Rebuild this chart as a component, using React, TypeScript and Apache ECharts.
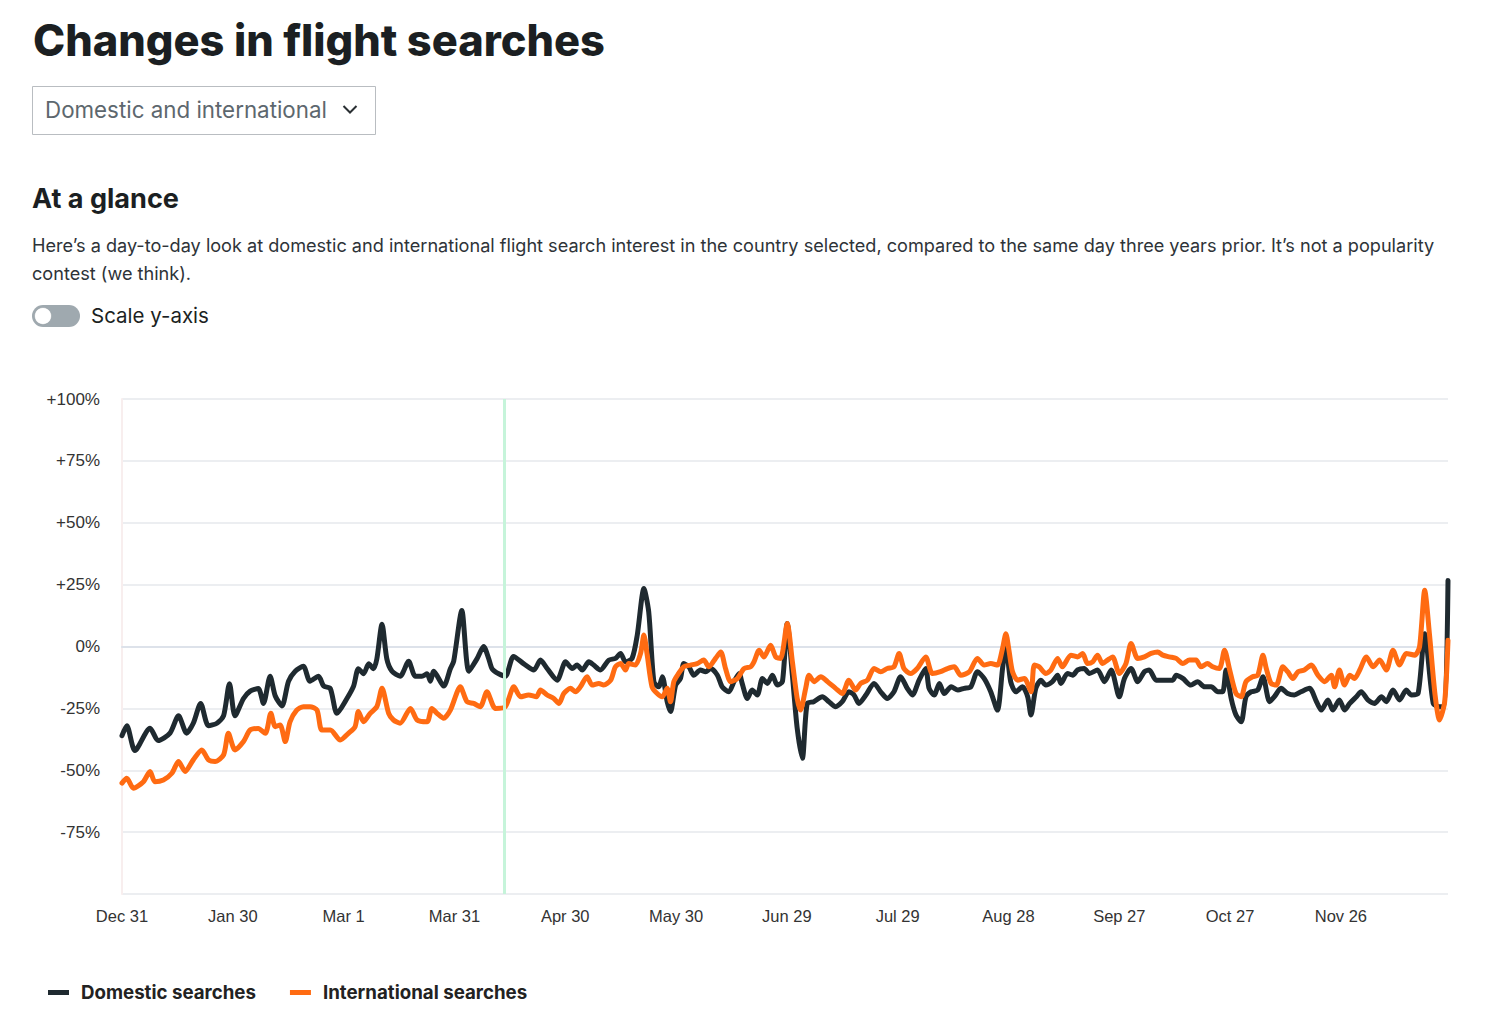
import React, { useEffect, useRef } from "react";
import * as echarts from "echarts";

const TICK_LABELS = ["Dec 31", "Jan 30", "Mar 1", "Mar 31", "Apr 30", "May 30", "Jun 29", "Jul 29", "Aug 28", "Sep 27", "Oct 27", "Nov 26"];
const Y_TICKS = [-100, -75, -50, -25, 0, 25, 50, 75, 100];
const MARKER_DAY = 103.5;
const SERIES_NAMES = ["Domestic searches", "International searches"];

// [day since Dec 31, % change]
const DOMESTIC: [number, number][] = [
  [0, -36], [1.3, -32], [3.5, -42], [7.6, -33], [9.8, -38], [13, -35], [15.3, -28], [17.5, -35], [19.3, -31], [21.3, -23],
  [23.4, -32], [25.7, -31], [27.5, -28], [29.1, -15], [30.6, -28], [32.9, -21], [34.7, -18], [36.9, -17], [38.3, -23], [40.1, -12],
  [41.5, -20], [43.3, -24], [45.1, -14], [46.9, -10], [49.1, -8], [50.9, -14], [53.2, -12], [54.6, -16], [56.4, -17], [58.2, -27],
  [60.9, -21], [62.7, -16], [64, -9], [65.4, -11], [66.8, -7], [68.1, -9], [69, -5], [70.4, 9], [71.7, -5], [73.1, -10],
  [75.3, -12], [77.6, -6], [79.4, -12], [81.2, -12], [82.6, -11], [83.5, -14], [84.4, -10], [87.1, -16], [88.9, -9], [89.8, -6],
  [92, 14.5], [93.9, -10], [96.1, -5], [97.9, 0], [99.3, -5], [100.2, -9], [102, -11], [103.8, -12], [106, -4], [108.8, -7],
  [111.5, -9.5], [113.3, -5.5], [115.1, -8.9], [117.8, -13.6], [120.1, -6.2], [121.9, -8.9], [123.2, -7.5], [124.6, -9.5], [126.4, -6.2], [127.7, -7.5],
  [129.5, -9.5], [131.8, -5.5], [133.6, -4.8], [135, -2.8], [136.3, -6.2], [138.1, -4.8], [139.5, 4.6], [141.3, 23.4], [142.6, 14], [144, -14.2],
  [145.3, -16.3], [146.3, -12.2], [147.6, -22.3], [148.5, -26.3], [149.9, -15.6], [151.2, -12.9], [152.1, -6.9], [153.5, -8.2], [154.8, -11.6], [156.6, -9.5],
  [158, -10.2], [159.4, -8.9], [161.2, -11.6], [162.5, -16.3], [164.3, -18.3], [165.7, -14.2], [167.1, -10.9], [167.9, -14.9], [169.3, -21], [170.6, -17.6],
  [172, -19.6], [173.4, -12.9], [174.7, -14.9], [176.1, -11.6], [177.4, -15.6], [178.8, -14.2], [180.1, 9.3], [181.5, -11.6], [182.8, -33], [184.2, -45.2],
  [185.5, -23], [187.3, -22.3], [189.6, -20.3], [191.4, -22.3], [193.2, -24.3], [195, -22.3], [196.8, -18.3], [198.2, -19.6], [199.5, -23], [201.4, -19.6],
  [203.6, -14.9], [205.4, -18.3], [207.2, -21], [209, -18.3], [210.8, -12.2], [212.6, -16.9], [214, -19.6], [215.8, -13.6], [217.6, -8.9], [218.5, -16.9],
  [219.9, -19.6], [221.3, -14.9], [222.6, -19], [224.5, -16.3], [226.3, -17.6], [228, -16.9], [229.8, -16.3], [231.6, -10.2], [233.4, -12.9], [235.2, -18.3],
  [237, -25.7], [238.4, -8.9], [239.3, 0.5], [240.6, -14.2], [242, -18.3], [243.8, -16.3], [245.2, -20.3], [246.1, -27.7], [247.4, -16.9], [248.8, -13.6],
  [250.1, -15.6], [251.9, -14.2], [253.3, -11.6], [254.2, -14.9], [256, -10.9], [257.4, -11.6], [258.7, -9.5], [260.5, -8.9], [261.9, -10.9], [264.1, -9.5],
  [266, -14.2], [267.8, -9.5], [270, -20.3], [271.4, -12.9], [273.2, -8.9], [275, -14.2], [276.8, -10.2], [278.1, -9.5], [280, -13.6], [282.2, -13.6],
  [284.5, -13.6], [285.4, -11.6], [287.2, -12.9], [289.4, -15.6], [291.2, -14.2], [293.1, -16.3], [294.9, -16.3], [296.7, -18.3], [298, -18.3], [298.9, -9.5],
  [300.3, -21], [301.6, -27.7], [303, -30.4], [304.3, -20.3], [305.7, -18.3], [307.5, -17.6], [308.9, -12.2], [310.7, -22.3], [312, -20.3], [313.8, -16.9],
  [315.6, -19], [317.4, -19.6], [319.2, -18.3], [321.5, -16.9], [323.4, -22.3], [324.7, -25.7], [326.5, -21.6], [327.8, -25.7], [329.6, -21.6], [331, -25.7],
  [332.4, -23], [334.2, -20.3], [335.5, -18.3], [337.3, -21.6], [339.1, -23], [341, -20.3], [342.3, -22.3], [344.1, -17.6], [345.9, -21.6], [347.7, -17.6],
  [349.1, -19.6], [350.9, -19], [352.7, 5.2], [355, -23], [356.7, -24.3], [358.1, -24.3], [359, 26.7],
];

const INTERNATIONAL: [number, number][] = [
  [0, -55.2], [1.3, -53.2], [3.1, -57.3], [5.8, -54.6], [7.6, -50.5], [8.9, -54.6], [11.2, -53.9], [13.5, -51.2], [15.3, -46.5], [17.1, -50.5],
  [19.3, -45.8], [21.6, -41.8], [23.4, -45.8], [25.2, -46.5], [27.5, -43.8], [28.8, -35.1], [30.6, -41.8], [32.9, -38.4], [34.7, -33.7], [36.9, -33.1],
  [38.8, -35.1], [40.3, -27], [41.5, -32.4], [42.8, -31.7], [44.2, -38.4], [45.5, -30.4], [47.3, -25.7], [49.1, -24.3], [50.9, -24.3], [52.8, -25.7],
  [54.1, -33.7], [56.4, -33.7], [59.1, -37.8], [61.3, -35.1], [63.1, -32.4], [64, -26.3], [65.4, -30.4], [67.2, -27], [69, -24.3], [70.4, -16.9],
  [72.2, -27], [73.5, -29.7], [75.3, -31], [78.1, -25], [79.9, -29.7], [82.6, -30.4], [83.9, -25], [85.3, -27], [87.1, -29], [88.9, -25.7],
  [91.6, -16.3], [93.4, -22.3], [95.2, -23], [97, -24.3], [98.8, -18.3], [101.1, -25], [103.8, -24.3], [106.1, -16.3], [107.9, -20.3], [110.1, -19.6],
  [112.2, -20.3], [113.3, -17.6], [115.1, -19.6], [116.9, -21], [118.3, -23], [119.6, -19], [121.4, -16.9], [122.8, -18.3], [124.1, -16.3], [125.9, -12.2],
  [127.3, -15.6], [129.1, -14.9], [130.4, -15.6], [132.3, -13.6], [133.6, -8.2], [135, -6.9], [136.3, -9.5], [137.2, -6.9], [139, -7.5], [140.4, -2.8],
  [141.3, 4.6], [142.2, -3.5], [143.5, -16.3], [144.9, -19], [146.3, -20.3], [147.6, -16.9], [148.5, -22.3], [149.4, -14.2], [150.7, -10.9], [152.1, -8.2],
  [153.9, -7.5], [155.7, -6.9], [157.5, -5.5], [158.9, -8.2], [160.7, -4.8], [162.1, -2.2], [163.4, -8.9], [164.8, -14.2], [166.6, -12.9], [168.4, -8.9],
  [170.2, -8.2], [171.1, -6.2], [172.5, -1.5], [173.8, -4.2], [175.6, 0.5], [177, -4.2], [178.3, -4.8], [180.1, 9.3], [181.5, -6.2], [182.8, -21],
  [183.7, -25.7], [185.1, -16.9], [186, -11.6], [187.4, -14.2], [189.2, -12.2], [191, -14.2], [193.2, -16.9], [195, -19], [196.8, -13.6], [198.6, -17.6],
  [200, -14.9], [201.8, -13.6], [203.6, -8.9], [205.4, -10.2], [207.2, -8.9], [209, -8.2], [210.4, -2.8], [211.7, -8.9], [213.5, -10.9], [215.3, -8.9],
  [217.6, -4.2], [219.4, -10.9], [221.6, -10.2], [223.5, -8.9], [225.3, -8.2], [227.1, -11.6], [229.4, -10.2], [231.6, -4.8], [233.4, -7.5], [235.2, -6.9],
  [237, -7.5], [238.4, -0.8], [239.3, 5.2], [240.2, -2.2], [241.1, -10.2], [242.5, -13.6], [244.3, -12.9], [246.1, -18.3], [247, -7.5], [248.3, -8.2],
  [250.1, -10.9], [251.5, -9.5], [253.3, -4.8], [254.6, -8.2], [256.9, -3.5], [258.7, -4.2], [260.1, -2.8], [261.4, -6.9], [262.8, -6.2], [264.1, -3.5],
  [265.5, -6.9], [266.8, -5.5], [268.2, -4.2], [270, -10.9], [271.8, -6.9], [273.2, 1.2], [275, -4.8], [276.8, -4.2], [278.6, -2.8], [280.4, -2.2],
  [281.8, -3.5], [283.6, -4.2], [285.4, -4.8], [287.2, -6.9], [289, -5.5], [290.8, -5.5], [292.1, -8.2], [293.9, -6.9], [295.3, -8.2], [297.1, -8.9],
  [298.5, -1.5], [299.8, -8.9], [301.6, -19], [303, -20.3], [304.3, -14.2], [306.1, -12.2], [307.5, -11.6], [308.9, -3.5], [309.8, -8.9], [311.1, -14.9],
  [312.5, -15.6], [314.3, -8.2], [315.6, -10.2], [317, -12.9], [318.4, -10.2], [320.1, -9.5], [322, -7.5], [323.8, -11.6], [325.6, -14.2], [327.4, -11.6],
  [328.3, -16.3], [329.6, -9.5], [331, -15.6], [332.4, -11.6], [333.7, -12.9], [335.1, -9.5], [336.9, -4.2], [338.7, -8.2], [340.5, -5.5], [342.3, -9.5],
  [344.1, -1.5], [345.9, -7.5], [347.7, -2.8], [350, -3.5], [351.3, -0.1], [352.7, 22.7], [354, 4.6], [355.5, -19.6], [356.7, -29.7], [358.1, -22.3],
  [359, 2.5],
];

const INK = "#1f2a30";
const ORANGE = "#ff6b12";

function fitSize(text: string, weight: number, family: string, target: number, fallback: number): number {
  const ctx = document.createElement("canvas").getContext("2d");
  if (!ctx) return fallback;
  ctx.font = `${weight} 100px ${family}`;
  const w = ctx.measureText(text).width;
  return w > 0 ? (100 * target) / w : fallback;
}

export default function App() {
  const ref = useRef<HTMLDivElement>(null);

  useEffect(() => {
    if (!ref.current) return;
    const chart = echarts.init(ref.current, undefined, { renderer: "svg" });
    const UI = "Inter";
    const AX = "Liberation Sans, Arial, sans-serif";
    const titleText = "Changes in flight searches";
    const dropText = "Domestic and international";
    const glanceText = "At a glance";
    const para1 = "Here\u2019s a day-to-day look at domestic and international flight search interest in the country selected, compared to the same day three years prior. It\u2019s not a popularity";
    const para2 = "contest (we think).";
    const toggleText = "Scale y-axis";

    const titleSize = fitSize(titleText, 800, UI, 572, 42);
    const dropSize = fitSize(dropText, 400, UI, 282, 21);
    const glanceSize = fitSize(glanceText, 700, UI, 147, 26);
    const paraSize = fitSize(para1, 400, UI, 1403, 17.5);
    const toggleSize = fitSize(toggleText, 400, UI, 118, 20);
    const legendSize = fitSize(SERIES_NAMES[0], 700, UI, 175, 18);

    const option: any = {
      animation: false,
      backgroundColor: "#ffffff",
      grid: { left: 122, right: 52, top: 399, bottom: 138, containLabel: false },
      xAxis: {
        type: "value",
        min: 0,
        max: 359,
        interval: 30,
        axisLine: { show: true, lineStyle: { color: "#dde2ea", width: 2 } },
        axisTick: { show: false },
        splitLine: { show: false },
        axisLabel: {
          showMaxLabel: false,
          margin: 13,
          color: "#333333",
          fontSize: 16.5,
          fontFamily: AX,
          formatter: (v: number) => (v % 30 === 0 ? TICK_LABELS[v / 30] ?? "" : ""),
        },
      },
      yAxis: {
        type: "value",
        min: Y_TICKS[0],
        max: Y_TICKS[Y_TICKS.length - 1],
        interval: 25,
        axisLine: { show: true, lineStyle: { color: "#f8eeee", width: 2 } },
        axisTick: { show: false },
        splitLine: { show: true, lineStyle: { color: "#e6e8ec", width: 1.5 } },
        axisLabel: {
          margin: 22,
          color: "#333333",
          fontSize: 17,
          fontFamily: AX,
          formatter: (v: number) => (v === -100 ? "" : v > 0 ? `+${v}%` : `${v}%`),
        },
      },
      legend: {
        data: SERIES_NAMES,
        left: 48,
        top: 983,
        padding: 0,
        icon: "rect",
        itemWidth: 21,
        itemHeight: 5,
        itemGap: 34,
        textStyle: {
          fontFamily: UI,
          fontWeight: 700,
          fontSize: legendSize,
          color: "#222222",
          padding: [0, 0, 0, 7],
        },
        selectedMode: false,
      },
      series: [
        {
          name: "marker",
          type: "line",
          data: [],
          z: 1,
          markLine: {
            silent: true,
            symbol: "none",
            label: { show: false },
            lineStyle: { color: "#c6f4da", width: 3, type: "solid" },
            data: [{ xAxis: MARKER_DAY }],
          },
        },
        {
          name: SERIES_NAMES[0],
          type: "line",
          data: DOMESTIC,
          showSymbol: false,
          smooth: 0.25,
          z: 3,
          itemStyle: { color: INK },
          lineStyle: { color: INK, width: 5, cap: "round", join: "round" },
        },
        {
          name: SERIES_NAMES[1],
          type: "line",
          data: INTERNATIONAL,
          showSymbol: false,
          smooth: 0.25,
          z: 4,
          itemStyle: { color: ORANGE },
          lineStyle: { color: ORANGE, width: 5, cap: "round", join: "round" },
        },
      ],
      graphic: [
        {
          type: "text",
          left: 33,
          top: 45 - titleSize * 0.6,
          style: { text: titleText, font: `800 ${titleSize}px ${UI}`, fill: "#1b1f22" },
        },
        {
          type: "rect",
          shape: { x: 32.5, y: 86.5, width: 343, height: 48 },
          style: { fill: "#ffffff", stroke: "#b9bdc1", lineWidth: 1 },
        },
        {
          type: "text",
          left: 45,
          top: 112 - dropSize * 0.6,
          style: { text: dropText, font: `400 ${dropSize}px ${UI}`, fill: "#5d676e" },
        },
        {
          type: "polyline",
          shape: { points: [[343.5, 106], [350, 112.5], [356.5, 106]] },
          style: { stroke: "#2a2f33", lineWidth: 2, fill: "none" },
        },
        {
          type: "text",
          left: 32,
          top: 202 - glanceSize * 0.62,
          style: { text: glanceText, font: `700 ${glanceSize}px ${UI}`, fill: "#1b1f22" },
        },
        {
          type: "text",
          left: 32,
          top: 247 - paraSize * 0.6,
          style: { text: para1, font: `400 ${paraSize}px ${UI}`, fill: "#2e3338" },
        },
        {
          type: "text",
          left: 32,
          top: 275 - paraSize * 0.6,
          style: { text: para2, font: `400 ${paraSize}px ${UI}`, fill: "#2e3338" },
        },
        {
          type: "rect",
          shape: { x: 32, y: 305, width: 48, height: 22, r: 11 },
          style: { fill: "#9fa9af" },
        },
        {
          type: "circle",
          shape: { cx: 43, cy: 316, r: 8.5 },
          style: { fill: "#ffffff", stroke: "#8d979d", lineWidth: 0.5 },
        },
        {
          type: "text",
          left: 91,
          top: 317.5 - toggleSize * 0.6,
          style: { text: toggleText, font: `400 ${toggleSize}px ${UI}`, fill: "#1b1f22" },
        },
      ],
    };

    chart.setOption(option);
    return () => chart.dispose();
  }, []);

  return (
    <div
      ref={ref}
      style={{ position: "absolute", left: 0, top: 0, width: 1500, height: 1032, background: "#ffffff" }}
    />
  );
}
